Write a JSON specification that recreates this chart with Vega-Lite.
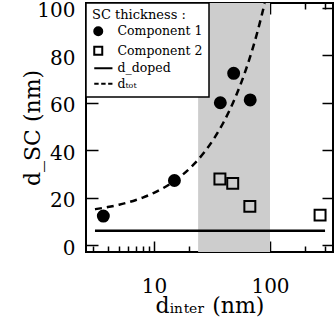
{
  "$schema": "https://vega.github.io/schema/vega-lite/v6.json",
  "autosize": {"type": "none"},
  "padding": {"left": 86, "top": 3, "right": 1, "bottom": 74},
  "width": 247,
  "height": 249,
  "background": "white",
  "config": {
    "view": {"stroke": "black", "strokeWidth": 2},
    "font": "DejaVu Serif",
    "axis": {"grid": false, "domain": false, "tickColor": "black", "tickWidth": 1.5, "labelColor": "black", "titleColor": "black", "labelFont": "DejaVu Serif", "titleFont": "DejaVu Serif", "labelFontSize": 20, "titleFontSize": 22, "titleFontWeight": "normal"},
    "legend": {"title": "SC thickness :", "orient": "top-left", "offset": 0, "padding": 6,
      "strokeColor": "black", "fillColor": "white", "strokeWidth": 1.5,
      "titleFont": "DejaVu Serif", "titleFontSize": 13, "titleFontWeight": "normal", "titleColor": "black", "titlePadding": 3,
      "labelFont": "DejaVu Serif", "labelFontSize": 12.5, "labelColor": "black", "labelOffset": 13,
      "symbolSize": 64, "rowPadding": 2.5, "symbolStrokeWidth": 2, "symbolOpacity": 1}
  },
  "datasets": {
    "band": [{"start": 24, "end": 100}],
    "pts": [
      {"series": "Component 1", "x": 3.66, "y": 12.2},
      {"series": "Component 1", "x": 15, "y": 27.2},
      {"series": "Component 1", "x": 37.3, "y": 60},
      {"series": "Component 1", "x": 48.6, "y": 72.4},
      {"series": "Component 1", "x": 67.5, "y": 61.2},
      {"series": "Component 2", "x": 37, "y": 27.8},
      {"series": "Component 2", "x": 47.7, "y": 26},
      {"series": "Component 2", "x": 67, "y": 16.3},
      {"series": "Component 2", "x": 270, "y": 12.6}
    ],
    "doped": [{"x": 3.1, "y": 6}, {"x": 298, "y": 6}],
    "tot": [
      {"x": 3.1, "y": 15.1}, {"x": 4, "y": 16}, {"x": 5, "y": 17}, {"x": 6, "y": 18}, {"x": 7, "y": 19},
      {"x": 8, "y": 20}, {"x": 10, "y": 22}, {"x": 12, "y": 24}, {"x": 15, "y": 27}, {"x": 18, "y": 30},
      {"x": 22, "y": 34}, {"x": 27, "y": 39}, {"x": 33, "y": 45}, {"x": 40, "y": 52}, {"x": 48, "y": 60},
      {"x": 57, "y": 69}, {"x": 67, "y": 79}, {"x": 78, "y": 90}, {"x": 90, "y": 102}
    ]
  },
  "resolve": {"axis": {"x": "independent", "y": "independent"}},
  "layer": [
    {
      "data": {"name": "band"},
      "mark": {"type": "rect", "color": "#cdcdcd"},
      "encoding": {
        "x": {"field": "start", "type": "quantitative",
          "scale": {"type": "log", "domain": [2.594, 349], "nice": false},
          "axis": {"orient": "bottom", "title": "dᵢₙₜₑᵣ (nm)", "values": [10, 100], "format": "d",
            "tickSize": -11, "labelPadding": 35, "labelOverlap": false, "labelFlush": false, "titlePadding": -1}},
        "x2": {"field": "end"}
      }
    },
    {
      "data": {"name": "doped"},
      "mark": {"type": "line", "color": "black", "strokeWidth": 2.5},
      "encoding": {
        "x": {"field": "x", "type": "quantitative",
          "scale": {"type": "log", "domain": [2.594, 349], "nice": false},
          "axis": {"orient": "top", "title": null, "labels": false, "values": [10, 100], "tickSize": -11}},
        "y": {"field": "y", "type": "quantitative",
          "scale": {"domain": [-2.95, 102.07], "nice": false, "zero": false},
          "axis": {"orient": "left", "title": "d_SC (nm)", "values": [0,20,40,60,80,100], "tickSize": -12, "labelPadding": 23, "labelOffset": 3, "titlePadding": -8}}
      }
    },
    {
      "data": {"name": "tot"},
      "mark": {"type": "line", "color": "black", "strokeWidth": 2.5, "strokeDash": [7, 5], "interpolate": "monotone", "clip": true},
      "encoding": {
        "x": {"field": "x", "type": "quantitative", "scale": {"type": "log", "domain": [2.594, 349], "nice": false},
          "axis": {"orient": "bottom", "title": null, "labels": false, "values": [3,4,5,6,7,8,9,20,30,40,50,60,70,80,90,200,300], "tickSize": -6}},
        "y": {"field": "y", "type": "quantitative",
          "scale": {"domain": [-2.95, 102.07], "nice": false, "zero": false},
          "axis": {"orient": "right", "title": null, "labels": false, "values": [0,20,40,60,80,100], "tickSize": -11}}
      }
    },
    {
      "data": {"name": "pts"},
      "mark": {"type": "point", "strokeWidth": 2, "opacity": 1},
      "encoding": {
        "x": {"field": "x", "type": "quantitative", "scale": {"type": "log", "domain": [2.594, 349], "nice": false},
          "axis": {"orient": "top", "title": null, "labels": false, "values": [3,4,5,6,7,8,9,20,30,40,50,60,70,80,90,200,300], "tickSize": -6}},
        "y": {"field": "y", "type": "quantitative", "scale": {"domain": [-2.95, 102.07], "nice": false, "zero": false}, "axis": null},
        "shape": {"field": "series", "type": "nominal",
          "scale": {"domain": ["Component 1", "Component 2", "d_doped", "dₜₒₜ"],
                    "range": ["circle", "square", "M-1,0H3.55", "M-1,0H0.1M0.74,0H1.84M2.48,0H3.55"]},
          "legend": {"title": "SC thickness :", "labelExpr": "indexof(datum.label, 'd') == 0 ? '\u2002\u2009' + datum.label : datum.label"}},
        "fill": {"field": "series", "type": "nominal",
          "scale": {"domain": ["Component 1", "Component 2", "d_doped", "dₜₒₜ"],
                    "range": ["black", "transparent", "transparent", "transparent"]},
          "legend": {"title": "SC thickness :", "labelExpr": "indexof(datum.label, 'd') == 0 ? '\u2002\u2009' + datum.label : datum.label"}},
        "stroke": {"field": "series", "type": "nominal",
          "scale": {"domain": ["Component 1", "Component 2", "d_doped", "dₜₒₜ"],
                    "range": ["black", "black", "black", "black"]},
          "legend": {"title": "SC thickness :", "labelExpr": "indexof(datum.label, 'd') == 0 ? '\u2002\u2009' + datum.label : datum.label"}},
        "size": {"value": 120}
      }
    }
  ]
}
